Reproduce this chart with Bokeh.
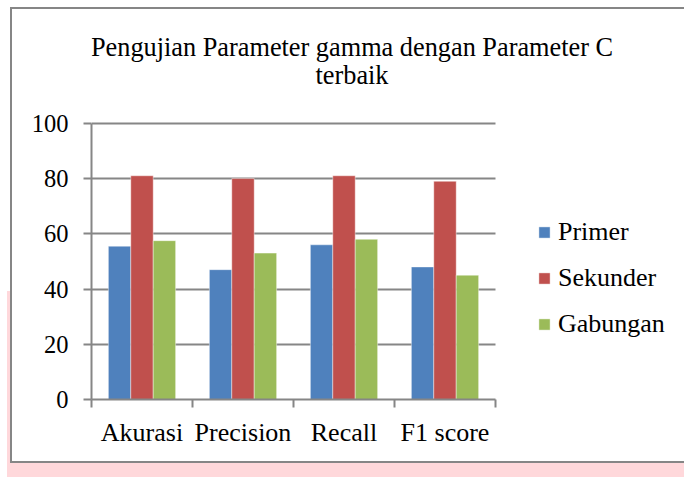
from bokeh.plotting import figure
from bokeh.models import (Range1d, FixedTicker, Legend, LegendItem, Label,
                          ColumnDataSource)
from bokeh.transform import dodge
from bokeh.embed import file_html
from bokeh.resources import INLINE
import numpy as np

# ---------------- data ----------------
categories = ["Akurasi", "Precision", "Recall", "F1 score"]
primer = [55.5, 47, 56, 48]
sekunder = [81, 80, 81, 79]
gabungan = [57.5, 53, 58, 45]
series_names = ["Primer", "Sekunder", "Gabungan"]
y_ticks = [0, 20, 40, 60, 80, 100]
title_lines = ["Pengujian Parameter gamma dengan Parameter C", "terbaik"]

# ---------------- styles / layout ----------------
FONT = "Liberation Serif"
GREY = "#868686"
PINK = "#FFD8DB"
colors = ["#4F81BD", "#C0504D", "#9BBB59"]

W, H = 684, 479
LEFT, BOTTOM = 91, 80             # frame starts at x=91, ends at y=399
PLOT_W, PLOT_H = 404, 276.2       # size of the drawn plot area (0..n, 0..100)
n = len(categories)
y_max = max(y_ticks)
frame_w, frame_h = W - LEFT, H - BOTTOM
x_end = n * frame_w / PLOT_W
y_end = y_max * frame_h / PLOT_H

pos = (np.arange(n) + 0.5).tolist()
src = ColumnDataSource(dict(x=pos, cat=categories, primer=primer,
                            sekunder=sekunder, gabungan=gabungan))

chart_box_css = {
    "background-color": "white",
    "background-image": ", ".join([f"linear-gradient({GREY},{GREY})"] * 3 +
                                  [f"linear-gradient({PINK},{PINK})"] * 2),
    "background-position": "10px 7px, 10px 7px, 10px 461px, 7px 291px, 7px 463px",
    "background-size": "2px 456px, 674px 2px, 674px 2px, 3px 186px, 677px 14px",
    "background-repeat": "no-repeat",
}

p = figure(width=W, height=H, output_backend="svg", toolbar_location=None,
           x_range=Range1d(0, x_end), y_range=Range1d(0, y_end),
           min_border_left=LEFT, min_border_right=0,
           min_border_top=0, min_border_bottom=BOTTOM,
           styles=chart_box_css)
p.outline_line_color = None
p.background_fill_alpha = 0
p.border_fill_alpha = 0

bw = 0.222
renderers = []
for i, (col, c) in enumerate(zip(["primer", "sekunder", "gabungan"], colors)):
    r = p.vbar(x=dodge("x", (i - 1) * bw, range=p.x_range), top=col, width=bw,
               source=src, fill_color=c, line_color="white", line_width=0.6,
               line_alpha=0.7)
    renderers.append(r)

# y axis
ya = p.yaxis[0]
ya.bounds = (0, y_max)
ya.ticker = FixedTicker(ticks=y_ticks, minor_ticks=[])
ya.axis_line_color = GREY
ya.axis_line_width = 2
ya.major_tick_line_color = GREY
ya.major_tick_line_width = 2
ya.major_tick_out = 8
ya.major_tick_in = 0
ya.minor_tick_line_color = None
ya.major_label_standoff = 15
ya.major_label_text_font = FONT
ya.major_label_text_font_size = "24.5px"
ya.major_label_text_color = "black"

# x axis: labels at centres, ticks at boundaries
xa = p.xaxis[0]
xa.bounds = (0, n)
xa.ticker = FixedTicker(ticks=pos, minor_ticks=list(range(n + 1)))
xa.major_label_overrides = {pv: c for pv, c in zip(pos, categories)}
xa.axis_line_color = GREY
xa.axis_line_width = 2
xa.major_tick_line_color = None
xa.major_tick_out = 0
xa.major_tick_in = 0
xa.minor_tick_line_color = GREY
xa.minor_tick_line_width = 2
xa.minor_tick_out = 8
xa.minor_tick_in = 0
xa.major_label_standoff = 10
xa.major_label_text_font = FONT
xa.major_label_text_font_size = "26px"
xa.major_label_text_color = "black"

p.xgrid.grid_line_color = None
p.ygrid.ticker = FixedTicker(ticks=y_ticks)
p.ygrid.grid_line_color = GREY
p.ygrid.grid_line_width = 2
try:
    p.ygrid.cross_bounds = (0, n)
except Exception:
    p.ygrid.grid_line_color = None
    p.segment(x0=0, x1=n, y0=y_ticks, y1=y_ticks, line_color=GREY, line_width=2,
              level="underlay")

# legend (inside the widened frame)
items = [LegendItem(label=nm, renderers=[r]) for nm, r in zip(series_names, renderers)]
leg = Legend(items=items, location=(446, 60), orientation="vertical",
             glyph_width=14, glyph_height=14, label_height=30, spacing=16,
             label_standoff=7, padding=0, margin=0,
             border_line_color=None, background_fill_alpha=0,
             label_text_font=FONT, label_text_font_size="26px",
             label_text_color="black")
p.add_layout(leg, "center")

# title, two centred lines
for txt, yb in zip(title_lines, [47, 75]):
    p.add_layout(Label(x=351.5, y=yb, x_units="canvas", y_units="canvas", text=txt,
                       text_align="center", text_baseline="alphabetic",
                       text_font=FONT, text_font_size="26.3px", text_color="black"))

open("out.html", "w").write(file_html(p, INLINE))
